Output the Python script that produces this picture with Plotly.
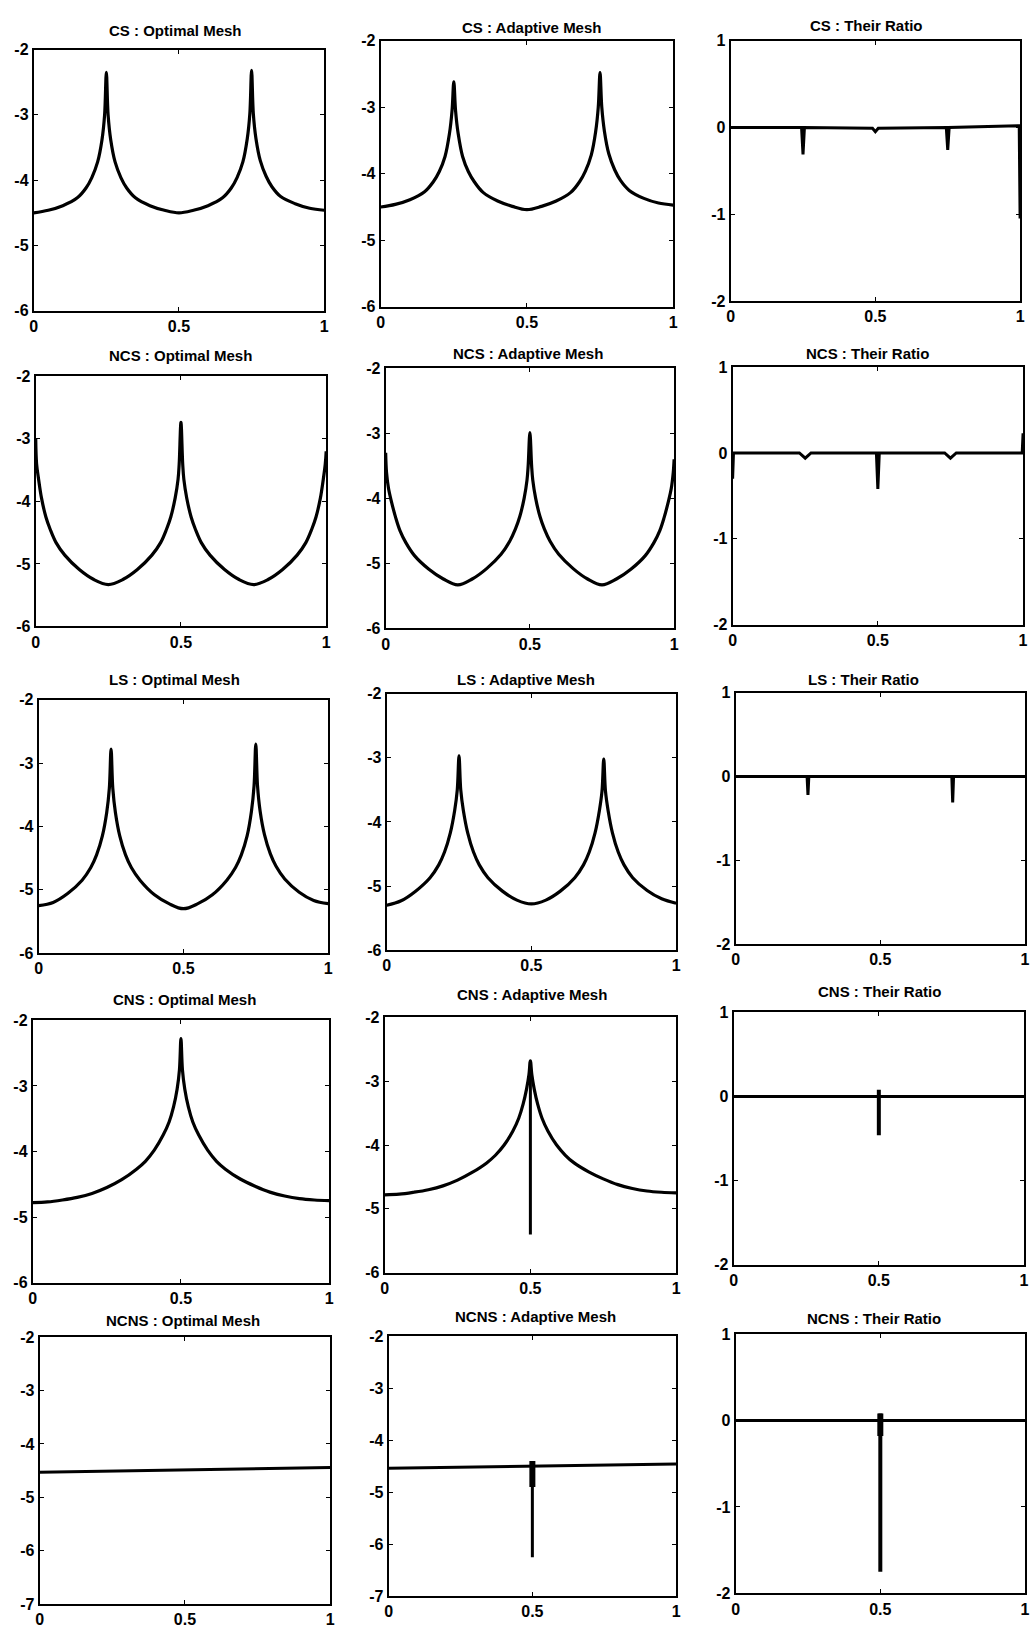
import plotly.graph_objects as go

W, H = 1036, 1633

# ---------------------------------------------------------------- data
# x grids
X_TWO = [0, 0.05, 0.10, 0.15, 0.18, 0.20, 0.22, 0.235, 0.244, 0.25, 0.256, 0.265, 0.28, 0.30,
         0.32, 0.35, 0.40, 0.45, 0.50, 0.55, 0.60, 0.65, 0.68, 0.70, 0.72, 0.735, 0.744, 0.75,
         0.756, 0.765, 0.78, 0.80, 0.82, 0.85, 0.90, 0.95, 1.0]
X_NCS = [0, 0.003, 0.01, 0.02, 0.035, 0.05, 0.07, 0.10, 0.15, 0.20, 0.25, 0.30, 0.35, 0.40,
         0.43, 0.45, 0.465, 0.48, 0.49, 0.494, 0.5, 0.506, 0.51, 0.52, 0.535, 0.55, 0.57, 0.60,
         0.65, 0.70, 0.75, 0.80, 0.85, 0.90, 0.93, 0.95, 0.965, 0.98, 0.99, 0.997, 1.0]
X_ONE = [0, 0.05, 0.10, 0.15, 0.20, 0.25, 0.30, 0.35, 0.38, 0.41, 0.44, 0.46, 0.475, 0.487,
         0.495, 0.5, 0.505, 0.513, 0.525, 0.54, 0.56, 0.59, 0.62, 0.65, 0.70, 0.75, 0.80,
         0.85, 0.90, 0.95, 1.0]
X_FLAT = [0, 0.5, 1.0]
X_SPIKE = [0.5, 0.5]

# CS
CS_OPT = [-4.50, -4.46, -4.39, -4.27, -4.12, -3.96, -3.72, -3.38, -3.00, -2.35, -3.00, -3.38,
          -3.72, -3.96, -4.12, -4.27, -4.39, -4.46, -4.50, -4.46, -4.39, -4.27, -4.12, -3.96,
          -3.72, -3.37, -2.98, -2.32, -2.98, -3.36, -3.70, -3.94, -4.10, -4.25, -4.36, -4.43,
          -4.46]
CS_ADAPT = [-4.50, -4.46, -4.39, -4.27, -4.12, -3.97, -3.74, -3.40, -3.05, -2.62, -3.05, -3.40,
            -3.74, -3.97, -4.12, -4.28, -4.41, -4.49, -4.54, -4.49, -4.41, -4.28, -4.12, -3.96,
            -3.72, -3.37, -3.00, -2.48, -3.00, -3.36, -3.70, -3.94, -4.10, -4.25, -4.37, -4.44,
            -4.47]
CS_RATIO_X = [0, 0.245, 0.25, 0.255, 0.49, 0.5, 0.51, 0.745, 0.75, 0.755, 0.997, 1.0]
CS_RATIO = [0, 0, -0.31, 0, -0.01, -0.05, -0.01, 0, -0.26, 0, 0.02, -1.05]

# NCS
NCS_OPT = [-3.00, -3.40, -3.65, -3.95, -4.25, -4.45, -4.66, -4.86, -5.09, -5.25, -5.33, -5.25,
           -5.09, -4.86, -4.66, -4.45, -4.25, -3.95, -3.65, -3.40, -2.74, -3.40, -3.65, -3.95,
           -4.25, -4.45, -4.66, -4.86, -5.09, -5.25, -5.33, -5.25, -5.09, -4.86, -4.66, -4.45,
           -4.25, -3.95, -3.65, -3.40, -3.20]
NCS_ADAPT = [-3.30, -3.60, -3.85, -4.05, -4.30, -4.50, -4.68, -4.88, -5.09, -5.24, -5.33, -5.24,
             -5.08, -4.86, -4.66, -4.47, -4.28, -4.00, -3.72, -3.50, -2.99, -3.50, -3.72, -4.00,
             -4.28, -4.47, -4.66, -4.86, -5.08, -5.24, -5.33, -5.24, -5.09, -4.88, -4.68, -4.50,
             -4.30, -4.05, -3.85, -3.60, -3.40]
NCS_RATIO_X = [0, 0.003, 0.23, 0.25, 0.27, 0.495, 0.5, 0.505, 0.73, 0.75, 0.77, 0.997, 1.0]
NCS_RATIO = [-0.30, 0, 0, -0.06, 0, 0, -0.42, 0, 0, -0.06, 0, 0, 0.23]

# LS
LS_OPT = [-5.25, -5.20, -5.06, -4.85, -4.65, -4.45, -4.15, -3.78, -3.40, -2.78, -3.40, -3.78,
          -4.15, -4.45, -4.65, -4.85, -5.08, -5.22, -5.30, -5.22, -5.08, -4.85, -4.65, -4.45,
          -4.15, -3.76, -3.36, -2.70, -3.36, -3.76, -4.13, -4.43, -4.63, -4.83, -5.04, -5.17,
          -5.22]
LS_ADAPT = [-5.30, -5.23, -5.08, -4.87, -4.67, -4.47, -4.17, -3.82, -3.50, -2.97, -3.50, -3.82,
            -4.17, -4.47, -4.67, -4.87, -5.08, -5.22, -5.28, -5.22, -5.08, -4.87, -4.67, -4.47,
            -4.17, -3.82, -3.52, -3.02, -3.52, -3.82, -4.17, -4.47, -4.67, -4.87, -5.07, -5.20,
            -5.27]
LS_RATIO_X = [0, 0.247, 0.25, 0.253, 0.747, 0.75, 0.753, 1.0]
LS_RATIO = [0, 0, -0.22, 0, 0, -0.31, 0, 0]

# CNS
CNS_OPT = [-4.78, -4.77, -4.74, -4.70, -4.64, -4.55, -4.43, -4.27, -4.15, -3.98, -3.75, -3.55,
           -3.32, -3.05, -2.75, -2.28, -2.75, -3.05, -3.32, -3.55, -3.75, -3.98, -4.15, -4.27,
           -4.42, -4.53, -4.62, -4.68, -4.72, -4.74, -4.75]
CNS_ADAPT = [-4.78, -4.77, -4.74, -4.70, -4.64, -4.55, -4.43, -4.28, -4.16, -4.00, -3.78, -3.58,
             -3.36, -3.12, -2.90, -2.68, -2.90, -3.12, -3.36, -3.58, -3.78, -4.00, -4.16, -4.28,
             -4.42, -4.53, -4.62, -4.68, -4.72, -4.74, -4.75]
CNS_ADAPT_SPIKE = [-2.70, -5.40]
CNS_RATIO = [0, 0, 0]
CNS_RATIO_SPIKE = [0.08, -0.46]

# NCNS
NCNS_OPT = [-4.53, -4.49, -4.44]
NCNS_ADAPT = [-4.54, -4.50, -4.46]
NCNS_ADAPT_SPIKE = [-4.40, -6.25]
NCNS_ADAPT_SPIKE_CORE = [-4.40, -4.90]
NCNS_RATIO = [0, 0, 0]
NCNS_RATIO_SPIKE = [0.08, -1.75]
NCNS_RATIO_SPIKE_CORE = [0.08, -0.18]

# tick labels
X_TICKS = [0, 0.5, 1]
X_TICK_TEXT = ["0", "0.5", "1"]
Y_TICKS_MESH = [-2, -3, -4, -5, -6]
Y_TICKS_MESH7 = [-2, -3, -4, -5, -6, -7]
Y_TICKS_RATIO = [1, 0, -1, -2]

ROWS = ["CS", "NCS", "LS", "CNS", "NCNS"]
COLS = ["Optimal Mesh", "Adaptive Mesh", "Their Ratio"]

# ---------------------------------------------------------------- layout geometry (px)
# (left, right, top, bottom) of each plot box, row by row
BOXES = [
    [(30, 323, 42, 306), (380, 675, 33, 302), (733, 1025, 33, 296)],
    [(32, 325, 372, 625), (385, 676, 364, 627), (735, 1028, 363, 623)],
    [(35, 327, 699, 955), (386, 678, 693, 952), (738, 1030, 692, 946)],
    [(29, 328, 1023, 1288), (384, 678, 1020, 1278), (736, 1029, 1015, 1270)],
    [(36, 329, 1343, 1613), (388, 678, 1342, 1605), (738, 1030, 1340, 1602)],
]
# centre of each panel title
TITLE_POS = [
    [(173, 23), (532, 20), (870, 18)],
    [(178, 351), (529, 349), (871, 349)],
    [(172, 679), (527, 679), (867, 679)],
    [(182, 1002), (533, 997), (883, 994)],
    [(181, 1326), (536, 1322), (878, 1324)],
]

# traces per panel: (x, y, line width, smooth curve?)
PANELS = [
    [[(X_TWO, CS_OPT, 3.2, True)], [(X_TWO, CS_ADAPT, 3.2, True)],
     [(CS_RATIO_X, CS_RATIO, 3, False)]],
    [[(X_NCS, NCS_OPT, 3.2, True)], [(X_NCS, NCS_ADAPT, 3.2, True)],
     [(NCS_RATIO_X, NCS_RATIO, 3, False)]],
    [[(X_TWO, LS_OPT, 3.2, True)], [(X_TWO, LS_ADAPT, 3.2, True)],
     [(LS_RATIO_X, LS_RATIO, 3, False)]],
    [[(X_ONE, CNS_OPT, 3.2, True)],
     [(X_ONE, CNS_ADAPT, 3.2, True), (X_SPIKE, CNS_ADAPT_SPIKE, 3, False)],
     [(X_FLAT, CNS_RATIO, 3, False), (X_SPIKE, CNS_RATIO_SPIKE, 4, False)]],
    [[(X_FLAT, NCNS_OPT, 3, False)],
     [(X_FLAT, NCNS_ADAPT, 3, False), (X_SPIKE, NCNS_ADAPT_SPIKE, 3, False),
      (X_SPIKE, NCNS_ADAPT_SPIKE_CORE, 6, False)],
     [(X_FLAT, NCNS_RATIO, 3, False), (X_SPIKE, NCNS_RATIO_SPIKE, 4, False),
      (X_SPIKE, NCNS_RATIO_SPIKE_CORE, 6, False)]],
]

FONT = "Liberation Sans, Arial, sans-serif"

fig = go.Figure()
layout = dict(
    width=W, height=H, margin=dict(l=0, r=0, t=0, b=0),
    paper_bgcolor="white", plot_bgcolor="white", showlegend=False,
    font=dict(family=FONT, color="black"),
)
annotations = []

k = 0
for r, row_name in enumerate(ROWS):
    for c, col_name in enumerate(COLS):
        k += 1
        sfx = "" if k == 1 else str(k)
        left, right, top, bottom = BOXES[r][c]

        for xs, ys, lw, smooth in PANELS[r][c]:
            line = dict(color="black", width=lw)
            if smooth:
                line.update(shape="spline", smoothing=1)
            fig.add_trace(go.Scatter(
                x=xs, y=ys, mode="lines", line=line,
                xaxis="x" + sfx, yaxis="y" + sfx, hoverinfo="skip"))

        if c == 2:
            yt, yr = Y_TICKS_RATIO, [-2, 1]
        elif r == 4:
            yt, yr = Y_TICKS_MESH7, [-7, -2]
        else:
            yt, yr = Y_TICKS_MESH, [-6, -2]

        common = dict(
            showgrid=False, zeroline=False, showline=True, linecolor="black",
            linewidth=2, mirror="ticks", ticks="inside", ticklen=4, tickwidth=1,
            tickcolor="black",
            tickfont=dict(family=FONT, size=16, color="black", weight="bold"),
        )
        layout["xaxis" + sfx] = dict(
            common, domain=[left / W, right / W], range=[0, 1],
            anchor="y" + sfx, tickvals=X_TICKS, ticktext=X_TICK_TEXT)
        layout["yaxis" + sfx] = dict(
            common, domain=[1 - bottom / H, 1 - top / H], range=yr,
            anchor="x" + sfx, tickvals=yt, ticktext=[str(v) for v in yt])

        tx, ty = TITLE_POS[r][c]
        annotations.append(dict(
            text=f"{row_name} : {col_name}", x=tx / W, y=1 - ty / H,
            xref="paper", yref="paper", xanchor="center", yanchor="middle",
            showarrow=False,
            font=dict(family=FONT, size=15, color="black", weight="bold")))

layout["annotations"] = annotations
fig.update_layout(**layout)
fig.write_html("out.html")
